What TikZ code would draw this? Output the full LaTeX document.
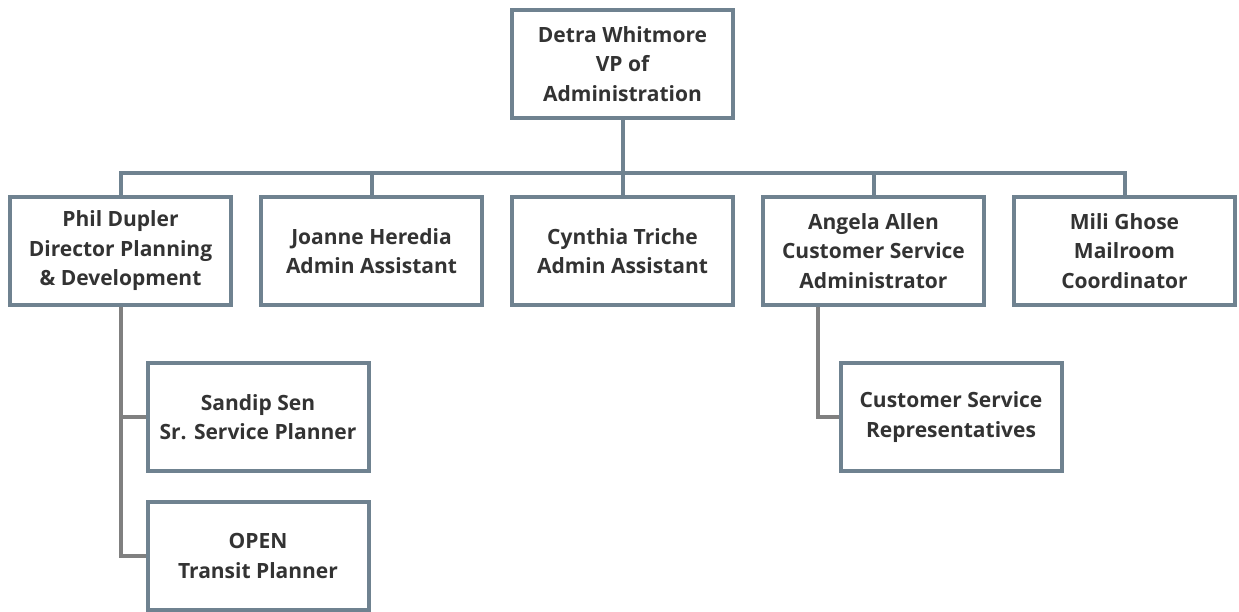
\documentclass[tikz,border=0pt]{standalone}
\usepackage{fontspec}
\setmainfont{Open Sans}
\begin{document}
\begin{tikzpicture}[x=1pt,y=-1pt,
  box/.style={draw=boxc, line width=4pt, fill=white, minimum width=221pt, minimum height=108pt,
    inner sep=0pt, align=center, text=txt, font=\bfseries\fontsize{21}{29.5}\selectfont},
  conn/.style={draw=boxc, line width=4pt},
  sub/.style={draw=subc, line width=4pt}]
\definecolor{boxc}{HTML}{6F8290}
\definecolor{subc}{HTML}{808080}
\definecolor{txt}{HTML}{333333}
\useasboundingbox (0,0) rectangle (1239,612);
\node[box] (top) at (622.5,64) {Detra Whitmore\\VP of\\Administration};
\node[box] (b1) at (120.5,251) {Phil Dupler\\Director Planning\\\& Development};
\node[box] (b2) at (371.5,251) {Joanne Heredia\\Admin Assistant};
\node[box] (b3) at (622.5,251) {Cynthia Triche\\Admin Assistant};
\node[box] (b4) at (873.5,251) {Angela Allen\\Customer Service\\Administrator};
\node[box] (b5) at (1124.5,251) {Mili Ghose\\Mailroom\\Coordinator};
\node[box] (s1) at (258,417) {Sandip Sen\\Sr. Service Planner};
\node[box] (s2) at (258,556) {OPEN\\Transit Planner};
\node[box] (c1) at (951,417) {Customer Service\\Representatives};
\coordinate (bus) at (622.5,173);
\coordinate (cs) at (818,306);
\draw[conn] (top.south) -- (bus);
\draw[conn, line cap=rect] (b1.north) |- (bus) -| (b5.north);
\draw[conn] (b2.north) -- (b2.north |- bus);
\draw[conn] (b3.north) -- (b3.north |- bus);
\draw[conn] (b4.north) -- (b4.north |- bus);
\draw[sub] (b1.south) |- (s2.west);
\draw[sub] (b1.south |- s1.west) -- (s1.west);
\draw[sub] (cs |- b4.south) |- (c1.west);
\end{tikzpicture}
\end{document}
